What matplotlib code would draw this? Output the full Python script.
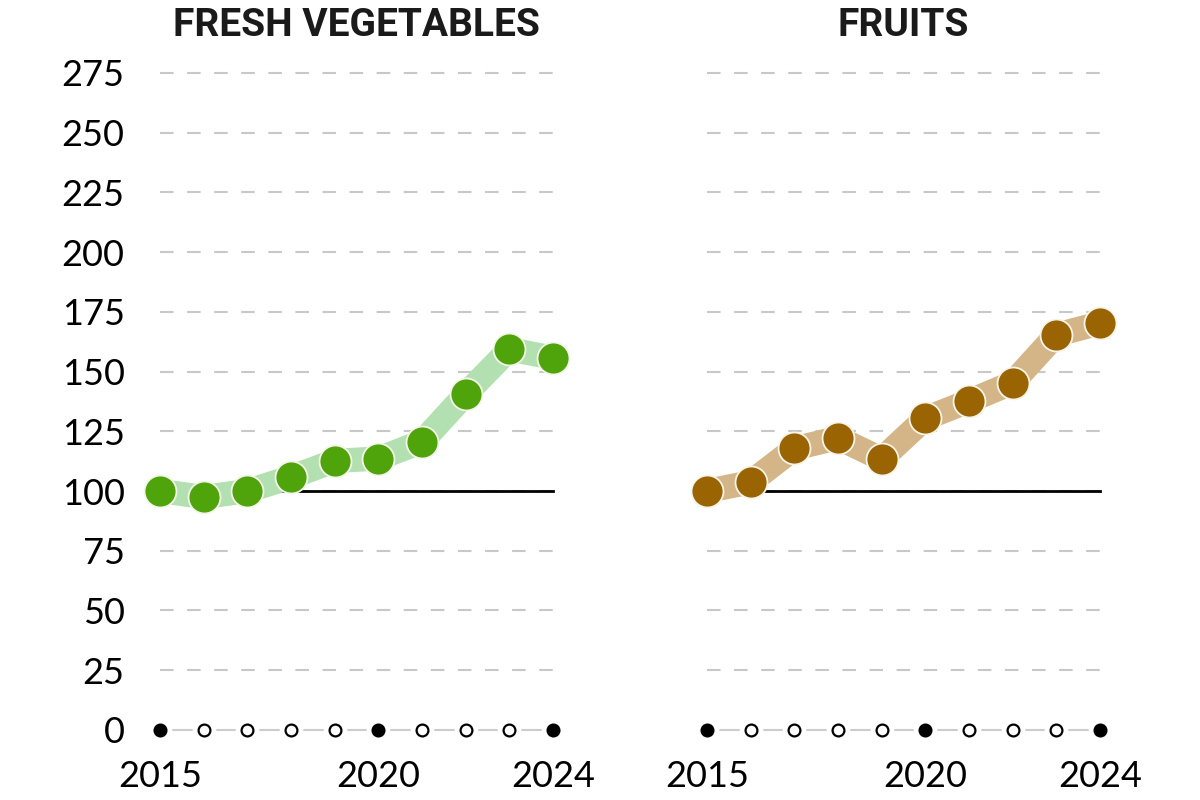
import matplotlib
matplotlib.use('Agg')
import matplotlib.pyplot as plt

years = [2015, 2016, 2017, 2018, 2019, 2020, 2021, 2022, 2023, 2024]
vegetables = [100, 97.5, 100, 105.8, 112.6, 113.6, 120.6, 140.5, 159.3, 155.8]
fruits = [100, 103.7, 117.8, 122.2, 113.4, 130.4, 137.6, 145.3, 165.4, 170.2]
yticks = [0, 25, 50, 75, 100, 125, 150, 175, 200, 225, 250, 275]
xlabels = [2015, 2020, 2024]

panels = [
    ('FRESH VEGETABLES', vegetables, '#4fa40c', '#b3e0b0'),
    ('FRUITS', fruits, '#9b6402', '#d4b587'),
]

plt.rcParams['font.family'] = ['Lato', 'DejaVu Sans']
fig = plt.figure(figsize=(12, 8), dpi=100)

lefts = [140 / 1200, 687 / 1200]
for i, (title, values, dot, band) in enumerate(panels):
    ax = fig.add_axes([lefts[i], 0.06875, 433 / 1200, 0.85625])
    ax.set_xlim(2014.54, 2024.46)
    ax.set_ylim(-6.3, 280.4)
    for s in ax.spines.values():
        s.set_visible(False)

    # dashed grid
    for t in yticks[1:]:
        ax.plot([years[0], years[-1]], [t, t], color='#c8c8c8', lw=1.5,
                dashes=(6.5, 6.5), zorder=1)
    # baseline at 100
    ax.plot([years[0], years[-1]], [100, 100], color='black', lw=2, zorder=2)

    # zero axis with year markers
    ax.plot([years[0], years[-1]], [0, 0], color='#cccccc', lw=1.5, zorder=1)
    ax.plot(years, [0] * len(years), 'o', color='white', ms=16, zorder=2)
    for y in years:
        filled = y in xlabels
        ax.plot(y, 0, 'o', ms=8.5, mec='black', mew=1.6,
                mfc='black' if filled else 'white', zorder=3)

    # band + dots
    ax.plot(years, values, color=band, lw=17.5, solid_joinstyle='round',
            solid_capstyle='round', zorder=4)
    ax.plot(years, values, 'o', color=dot, ms=23, mec='#f4f4e8', mew=1.3, zorder=5)

    ax.set_xticks(xlabels)
    ax.set_xticklabels([str(x) for x in xlabels], fontsize=26)
    ax.tick_params(axis='x', length=0, pad=11)
    if i == 0:
        ax.set_yticks(yticks)
        ax.set_yticklabels([str(t) for t in yticks], fontsize=26)
        ax.tick_params(axis='y', length=0, pad=11)
    else:
        ax.set_yticks([])

    fig.text(lefts[i] + (20 + 196.5) / 1200, 0.968, title, ha='center', va='center',
             fontsize=28, fontweight='bold', color='#1a1a1a',
             family=['Roboto', 'DejaVu Sans'])

fig.savefig('out.png', dpi=100)
